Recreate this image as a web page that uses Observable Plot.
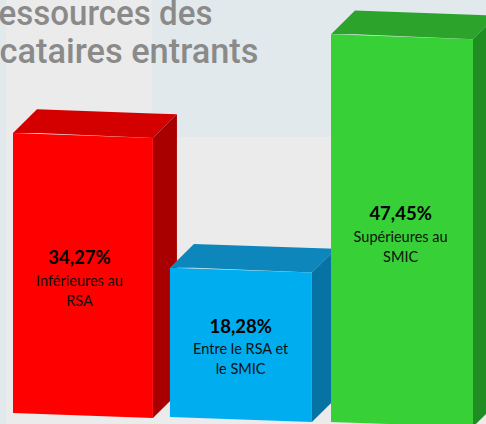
<!DOCTYPE html>
<html><head><meta charset="utf-8">
<script src="https://cdn.jsdelivr.net/npm/d3@7"></script>
<script src="https://cdn.jsdelivr.net/npm/@observablehq/plot@0.6"></script>
<style>
html,body{margin:0;padding:0;width:486px;height:424px;overflow:hidden}
body{background:
 linear-gradient(#e2e9ed,#e2e9ed) 0 0/6px 100% no-repeat,
 linear-gradient(#e2e9ed,#e2e9ed) 152px 0/334px 137px no-repeat,
 #ebebeb}
svg{display:block;background:transparent!important}
</style></head><body>
<script>
const categories = ["Inférieures au\nRSA", "Entre le RSA et\nle SMIC", "Supérieures au\nSMIC"];
const shares = [34.27, 18.28, 47.45];
const shareLabels = ["34,27%", "18,28%", "47,45%"];
const frontColors = ["#fe0000", "#00aeef", "#37d037"];
const topColors = ["#d40000", "#0d86bb", "#2ca42c"];
const sideColors = ["#a80000", "#0773a5", "#1f8d22"];
const titleLines = ["essources des", "cataires entrants"];

// layout of the pseudo-3D boxes, in chart units
const slotStart = [0, 0.987, 2], barWidth = [0.88, 0.893, 0.893];
const baseLift = [0.12, -0.37, -0.98];
const lean = 0.6, depthX = 0.151, depthY = 2.9;

const faces = [];
shares.forEach((v, i) => {
  const a = slotStart[i], b = a + barWidth[i], lo = baseLift[i], hi = lo + v;
  const add = (face, fill, pts) => pts.forEach(([x, y1, y2]) => faces.push({z: i + face, fill, x, y1, y2}));
  add("top", topColors[i], [
    [a, hi, hi],
    [a + depthX, hi, hi + depthY],
    [b, hi - lean, hi + depthY - lean * (b - a - depthX) / (b - a)],
    [b + depthX, hi - lean * 1 + depthY, hi - lean + depthY]
  ]);
  add("side", sideColors[i], [
    [b, lo - lean, hi - lean],
    [b + depthX, lo - lean + depthY, hi - lean + depthY]
  ]);
  add("front", frontColors[i], [
    [a, lo, hi],
    [b, lo - lean, hi - lean]
  ]);
});

const labelShift = [-0.025, -0.005, -0.012];
const labelDrop = [15.25, 7.2, 22];
const labels = shares.map((v, i) => ({
  x: slotStart[i] + barWidth[i] / 2 + labelShift[i],
  y: baseLift[i] + v - labelDrop[i]
}));

const chart = Plot.plot({
  width: 486, height: 424,
  marginTop: 0, marginRight: 0, marginBottom: 0, marginLeft: 0,
  style: {background: "transparent"},
  x: {axis: null, domain: [-13 / 159, 473 / 159], range: [0, 486]},
  y: {axis: null, domain: [-1.224, 50.67], range: [424, 0]},
  marks: [
    Plot.area(faces, {x1: "x", y1: "y1", y2: "y2", z: "z", fill: "fill", curve: "linear"}),
    Plot.text(labels, {x: "x", y: "y", text: (d, i) => shareLabels[i],
      fontFamily: "Lato", fontWeight: 700, fontSize: 18.5, fill: "#000"}),
    Plot.text(labels, {x: "x", y: "y", dy: 31, text: (d, i) => categories[i],
      fontFamily: "Lato", fontSize: 14.5, lineHeight: 1.38, fill: "#111"}),
    Plot.text([titleLines[0]], {frameAnchor: "top-left", dx: 212, dy: 0, text: d => d, textAnchor: "end",
      lineAnchor: "top", fontFamily: "Roboto", fontWeight: 500, fontSize: 35, fill: "#8a8a8a"}),
    Plot.text([titleLines[1]], {frameAnchor: "top-left", dx: 258, dy: 38, text: d => d, textAnchor: "end",
      lineAnchor: "top", fontFamily: "Roboto", fontWeight: 500, fontSize: 35, fill: "#8a8a8a"})
  ]
});
document.body.appendChild(chart);
// the reference's title face is narrower than Roboto: fit each line to its measured width
const titleWidths = {[titleLines[0]]: 214, [titleLines[1]]: 259};
chart.querySelectorAll("text").forEach(t => {
  const w = titleWidths[t.textContent];
  if (w) { t.setAttribute("textLength", w); t.setAttribute("lengthAdjust", "spacingAndGlyphs"); }
});
</script>
</body></html>
